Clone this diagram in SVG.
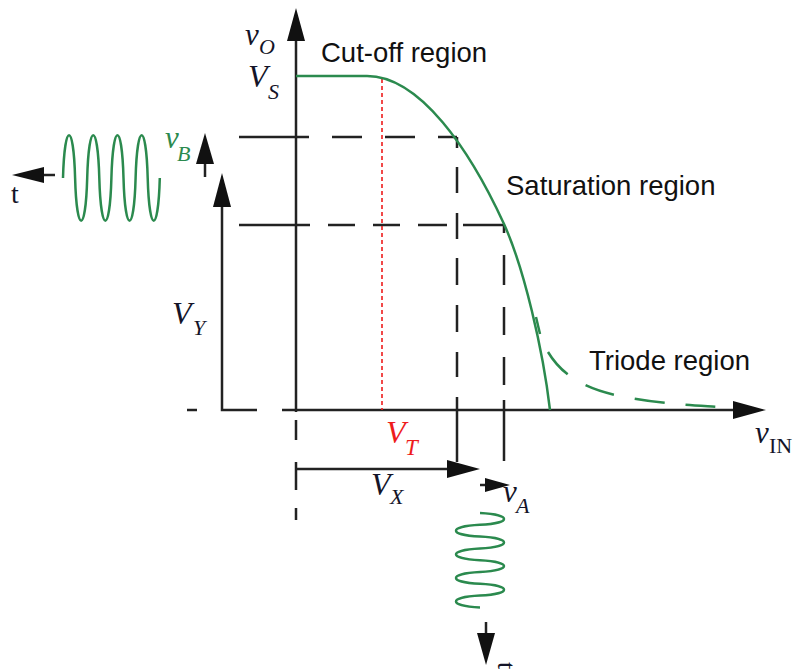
<svg xmlns="http://www.w3.org/2000/svg" width="798" height="671" viewBox="0 0 798 671">
<style>
.ln{stroke:#222;stroke-width:2.5;fill:none}
.ah{fill:#111;stroke:none}
.gr{stroke:#2b8a4e;stroke-width:2.5;fill:none}
.rd{stroke:#ee1c1c;stroke-width:1.6;fill:none;stroke-dasharray:4 3}
.lbl{font-family:"Liberation Sans",Arial,sans-serif;font-size:27.5px;fill:#111}
.m{font-family:"Liberation Serif","Times New Roman",serif;font-style:italic;fill:#141428}
.up{font-family:"Liberation Serif","Times New Roman",serif;fill:#141428}
.g{fill:#2b8a4e}
.r{fill:#ee1c1c}
</style>
<rect width="798" height="671" fill="#fff"/>
<g id="connectors">
  <line class="ln" x1="296" y1="38" x2="296" y2="412"/>
  <polygon class="ah" points="296,8 287,41 305,41"/>
  <path class="ln" d="M296,420V440M296,462V490M296,508V520"/>
  <line class="ln" x1="282" y1="410" x2="736" y2="410"/>
  <polygon class="ah" points="766,410 733,401 733,419"/>
  <path class="ln" d="M187,410H197"/>
  <path class="ln" d="M222,204V410H257"/>
  <polygon class="ah" points="222,173 213,207 231,207"/>
  <line class="ln" x1="205" y1="161" x2="205" y2="177"/>
  <polygon class="ah" points="205,133 196,164 214,164"/>
  <line class="ln" x1="42" y1="175" x2="55" y2="175"/>
  <polygon class="ah" points="12,175 44,167 44,183"/>
  <path class="ln" d="M239,137H309M332,137H362M385,137H415M438,137H457"/>
  <path class="ln" d="M239,225H310M328,225H355M373,225H400M418,225H447M463,225H504"/>
  <path class="ln" d="M457,137V148M457,167V193M457,213V239M457,258V285M457,305V332M457,352V377M457,397V462"/>
  <path class="ln" d="M504,225V233M504,255V285M504,307V335M504,357V385M504,400V461"/>
  <line class="rd" x1="382" y1="79" x2="382" y2="410"/>
  <line class="ln" x1="296" y1="469" x2="450" y2="469"/>
  <polygon class="ah" points="480,469 447,460 447,478"/>
  <line class="ln" x1="480" y1="485" x2="488" y2="485"/>
  <polygon class="ah" points="510,485 485,478 485,492"/>
  <line class="ln" x1="486" y1="622" x2="486" y2="635"/>
  <polygon class="ah" points="486,665 477,633 495,633"/>
</g>
<g id="curve">
  <path class="gr" d="M296,76H367C420,76 470,150 504,224C524,268 543,350 550,410"/>
  <path class="gr" d="M536,317L540,334" stroke-width="2"/>
  <path class="gr" d="M548,352C560,372 580,388 620,396S690,405 720,407" stroke-dasharray="30 21"/>
</g>
<g id="waveB">
  <path class="gr" d="M63,178c1.6,-57 10.5,-57 12.1,0c1.6,57 10.5,57 12.1,0c1.6,-57 10.5,-57 12.1,0c1.6,57 10.5,57 12.1,0c1.6,-57 10.5,-57 12.1,0c1.6,57 10.5,57 12.1,0c1.6,-57 10.5,-57 12.1,0c1.6,57 10.5,57 12.1,0"/>
</g>
<g id="waveA">
  <path class="gr" d="M480,513c32,1.6 32,10.2 0,11.8c-32,1.6 -32,10.2 0,11.8c32,1.6 32,10.2 0,11.8c-32,1.6 -32,10.2 0,11.8c32,1.6 32,10.2 0,11.8c-32,1.6 -32,10.2 0,11.8c32,1.6 32,10.2 0,11.8c-32,1.6 -32,10.2 0,11.8"/>
</g>
<g id="labels">
  <text class="m" x="245" y="45" font-size="31">v</text><text class="m" x="259" y="54" font-size="22">O</text>
  <text class="lbl" x="321" y="62">Cut-off region</text>
  <text class="lbl" x="506" y="195">Saturation region</text>
  <text class="lbl" x="589" y="370">Triode region</text>
  <text class="m" x="248" y="87" font-size="32">V</text><text class="m" x="268" y="99" font-size="22">S</text>
  <text class="m g" x="165" y="148" font-size="31">v</text><text class="m g" x="177" y="161" font-size="22">B</text>
  <text class="m" x="172" y="324" font-size="32">V</text><text class="m" x="193" y="335" font-size="22">Y</text>
  <text class="m r" x="386" y="443" font-size="32">V</text><text class="m r" x="405" y="455" font-size="23">T</text>
  <text class="m" x="371" y="495" font-size="32">V</text><text class="m" x="390" y="504" font-size="22">X</text>
  <text class="m" x="503" y="502" font-size="31">v</text><text class="m" x="516" y="513" font-size="22">A</text>
  <text class="m" x="755" y="443" font-size="31">v</text><text class="up" x="769" y="453" font-size="22">IN</text>
  <text class="up" x="11" y="203" font-size="28">t</text>
  <text class="up" font-size="26" transform="translate(498,662) rotate(90)">t</text>
</g>
</svg>
